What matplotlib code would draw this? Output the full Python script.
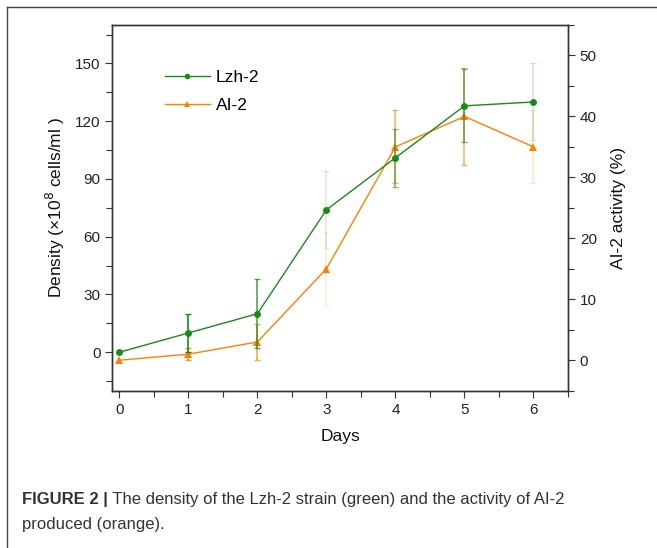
import matplotlib
matplotlib.use("Agg")
import matplotlib.pyplot as plt
from matplotlib.lines import Line2D
from matplotlib.ticker import MultipleLocator

plt.rcParams['font.family'] = ['Liberation Sans', 'DejaVu Sans']

days = [0, 1, 2, 3, 4, 5, 6]
density = [0, 10, 20, 74, 101, 128, 130]
density_err = [0, 10, 18, 20, 15, 19, 20]
ai2 = [0, 1, 3, 15, 35, 40, 35]
ai2_err = [0, 1, 3, 6, 6, 8, 6]

green = '#1a8a1a'
orange = '#ff8000'
green_err_alpha = [1.0, 1.0, 0.75, 0.15, 0.55, 0.6, 0.2]
orange_err_alpha = [1.0, 0.8, 0.7, 0.15, 0.6, 0.6, 0.2]

fig = plt.figure(figsize=(6.57, 5.48), dpi=100)
ax = fig.add_axes([0.1712, 0.2870, 0.8645 - 0.1712, 0.9544 - 0.2870])
ax2 = ax.twinx()

for i, d in enumerate(days):
    if density_err[i] > 0:
        ax.errorbar([d], [density[i]], yerr=[density_err[i]], fmt='none',
                    ecolor=green, elinewidth=1.2, capsize=2.5, capthick=1.0,
                    alpha=green_err_alpha[i], zorder=2)
    if ai2_err[i] > 0:
        ax2.errorbar([d], [ai2[i]], yerr=[ai2_err[i]], fmt='none',
                     ecolor=orange, elinewidth=1.2, capsize=2.5, capthick=1.0,
                     alpha=orange_err_alpha[i], zorder=2)

l2, = ax2.plot(days, ai2, color=orange, lw=1.0, marker='^', ms=5.5,
               markeredgewidth=0, label='AI-2', zorder=3)
l1, = ax.plot(days, density, color=green, lw=1.0, marker='o', ms=5,
              markeredgewidth=0, label='Lzh-2', zorder=4)
ax.set_zorder(ax2.get_zorder() + 1)
ax.patch.set_visible(False)

ax.set_xlim(-0.1, 6.5)
ax.set_ylim(-20, 170)
ax2.set_ylim(-5, 55)
ax.set_xticks(days)
ax.xaxis.set_minor_locator(MultipleLocator(0.5))
ax.set_yticks([0, 30, 60, 90, 120, 150])
ax.yaxis.set_minor_locator(MultipleLocator(15))
ax2.set_yticks([0, 10, 20, 30, 40, 50])
ax2.yaxis.set_minor_locator(MultipleLocator(5))

spine_c = '#333333'
for a in (ax, ax2):
    for s in a.spines.values():
        s.set_color(spine_c)
        s.set_linewidth(1.0)
    a.tick_params(which='both', direction='out', colors=spine_c, labelcolor='#222222',
                  labelsize=11)
    a.tick_params(which='major', length=5, width=0.8)
    a.tick_params(which='minor', length=4, width=0.8)

ax.set_xlabel('Days', fontsize=12.5, color='#111111', labelpad=9)
ax.set_ylabel('Density (×10$^8$ cells/ml )', fontsize=12.5, color='#111111', labelpad=6)
ax2.set_ylabel('AI-2 activity (%)', fontsize=12.5, color='#111111', labelpad=10)

leg = ax.legend(handles=[l1, l2], loc='upper left', bbox_to_anchor=(0.08, 0.92),
                frameon=False, fontsize=12.5, handlelength=2.6, handletextpad=0.35,
                labelspacing=0.75, markerscale=0.8)

# outer frame (top and left visible)
fig.add_artist(Line2D([6.5 / 657, 1.0], [1 - 6.5 / 548] * 2, transform=fig.transFigure,
                      color='#444444', lw=1.0))
fig.add_artist(Line2D([6.5 / 657] * 2, [0, 1 - 6.5 / 548], transform=fig.transFigure,
                      color='#444444', lw=1.0))

t1 = fig.text(22 / 657, 1 - 504 / 548, 'FIGURE 2 |', fontsize=12, fontweight='bold',
              color='#333333', va='baseline')
a1 = plt.annotate(' The density of the Lzh-2 strain (green) and the activity of AI-2',
                  xy=(1, 0), xycoords=t1, fontsize=12, color='#333333', va='bottom')
fig.text(22 / 657, 1 - 529 / 548, 'produced (orange).', fontsize=12, color='#333333',
         va='baseline')

fig.savefig('out.png', dpi=100)
